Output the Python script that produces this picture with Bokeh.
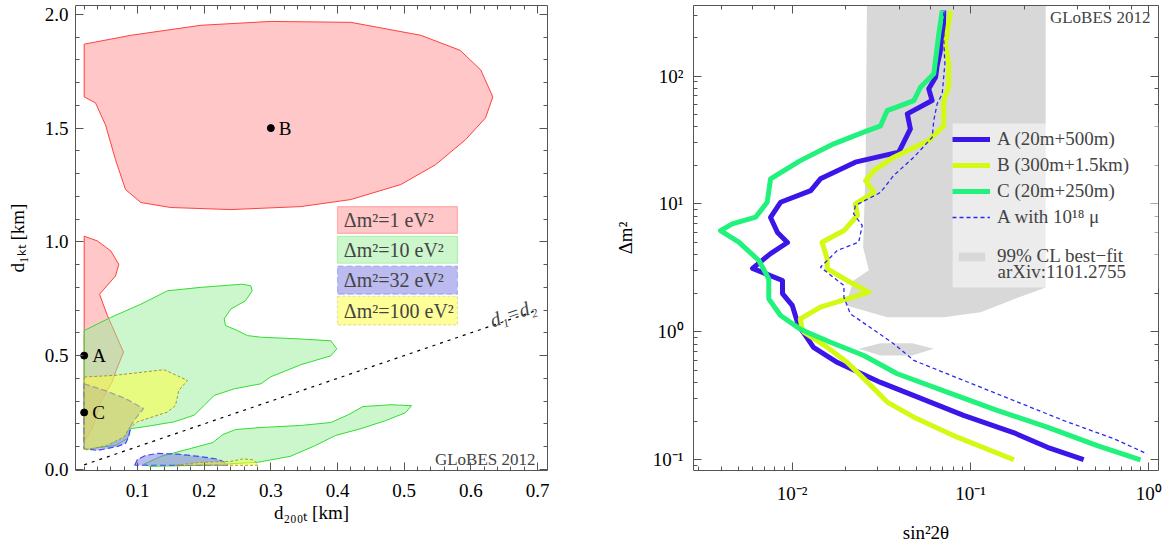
from bokeh.plotting import figure
from bokeh.models import (LinearAxis, LogAxis, SingleIntervalTicker, PrintfTickFormatter,
                          CustomJSTickFormatter, BoxAnnotation, Label, Legend, LegendItem, Range1d)
from bokeh.layouts import row
from bokeh.embed import file_html
from bokeh.resources import INLINE
from bokeh.core.properties import value

FONT = "Liberation Serif"

# ---------------- left panel data (km) ----------------
red1_x = [0.02, 0.09, 0.195, 0.30, 0.42, 0.525, 0.584, 0.615, 0.633, 0.622, 0.592, 0.547, 0.495, 0.42, 0.345,
          0.24, 0.15, 0.105, 0.082, 0.067, 0.052, 0.037, 0.02]
red1_y = [1.869, 1.908, 1.952, 1.969, 1.965, 1.908, 1.842, 1.755, 1.637, 1.545, 1.449, 1.339, 1.252, 1.186, 1.155,
          1.142, 1.151, 1.173, 1.230, 1.361, 1.514, 1.611, 1.637]
red2_x = [0.02, 0.040, 0.060, 0.072, 0.067, 0.043, 0.055, 0.079, 0.067, 0.062, 0.045, 0.032, 0.02]
red2_y = [1.025, 1.004, 0.960, 0.901, 0.850, 0.770, 0.675, 0.515, 0.428, 0.384, 0.298, 0.179, 0.123]

green1_x = [0.02, 0.060, 0.105, 0.145, 0.195, 0.257, 0.270, 0.272, 0.262, 0.240, 0.230, 0.232, 0.250, 0.265, 0.285,
            0.345, 0.390, 0.399, 0.390, 0.345, 0.300, 0.285, 0.245, 0.215, 0.200, 0.185, 0.155, 0.110, 0.090, 0.085,
            0.067, 0.02]
green1_y = [0.610, 0.668, 0.726, 0.785, 0.800, 0.814, 0.807, 0.785, 0.741, 0.705, 0.661, 0.632, 0.610, 0.588, 0.581,
            0.573, 0.565, 0.530, 0.499, 0.460, 0.407, 0.376, 0.354, 0.325, 0.281, 0.238, 0.209, 0.187, 0.179, 0.136,
            0.105, 0.088]
green2_x = [0.109, 0.135, 0.180, 0.213, 0.228, 0.247, 0.285, 0.345, 0.390, 0.417, 0.438, 0.480, 0.511, 0.502, 0.472,
            0.435, 0.397, 0.367, 0.329, 0.280, 0.195, 0.120]
green2_y = [0.022, 0.057, 0.092, 0.118, 0.153, 0.175, 0.184, 0.193, 0.206, 0.241, 0.276, 0.284, 0.280, 0.249, 0.214,
            0.179, 0.149, 0.105, 0.057, 0.031, 0.018, 0.013]

blue1_x = [0.02, 0.052, 0.082, 0.109, 0.097, 0.090, 0.087, 0.082, 0.070, 0.040, 0.02]
blue1_y = [0.376, 0.346, 0.311, 0.267, 0.223, 0.193, 0.144, 0.114, 0.101, 0.083, 0.092]
blue2_x = [0.096, 0.100, 0.112, 0.130, 0.160, 0.195, 0.220, 0.235, 0.235, 0.096]
blue2_y = [0.019, 0.044, 0.061, 0.070, 0.067, 0.056, 0.045, 0.026, 0.018, 0.018]

yellow1_x = [0.02, 0.065, 0.140, 0.175, 0.162, 0.157, 0.145, 0.100, 0.087, 0.080, 0.055, 0.02]
yellow1_y = [0.406, 0.413, 0.438, 0.391, 0.347, 0.281, 0.252, 0.209, 0.180, 0.143, 0.106, 0.084]
yellow2_x = [0.157, 0.195, 0.240, 0.258, 0.273, 0.280, 0.280]
yellow2_y = [0.018, 0.031, 0.035, 0.046, 0.042, 0.026, 0.018]

pt_x = [0.02, 0.30, 0.02]
pt_y = [0.50, 1.50, 0.25]
pt_lbl = ["A", "B", "C"]

diag_x = [0.02, 0.70]
diag_y = [0.02, 0.70]

left_legend_labels = ["Δm²=1 eV²", "Δm²=10 eV²", "Δm²=32 eV²", "Δm²=100 eV²"]

# ---------------- right panel data ----------------
A_x = [0.0708, 0.0703, 0.0673, 0.0650, 0.0637, 0.0583, 0.0609, 0.0442, 0.0460, 0.0396, 0.0226, 0.0144, 0.0127,
       0.0086, 0.00756, 0.00827, 0.00941, 0.00756, 0.00599, 0.00882, 0.00882, 0.0100, 0.01084, 0.0122, 0.01316,
       0.01795, 0.0313, 0.0478, 0.0914, 0.174, 0.270, 0.431]
A_y = [325, 215, 150, 121, 97.9, 79.4, 64.3, 50.6, 38.6, 25.4, 21.2, 15.7, 12.7, 10.3, 7.83, 5.98, 4.99, 4.09,
       3.13, 2.52, 1.99, 1.61, 1.12, 0.886, 0.754, 0.575, 0.402, 0.318, 0.222, 0.163, 0.125, 0.100]

B_x = [0.0773, 0.0724, 0.0755, 0.0755, 0.0708, 0.0708, 0.0583, 0.0371, 0.0287, 0.0258, 0.0287, 0.0226, 0.0232,
       0.0195, 0.0147, 0.0157, 0.0157, 0.0203, 0.0269, 0.0144, 0.0111, 0.01138, 0.01162, 0.0157, 0.0203, 0.0264,
       0.0341, 0.0481, 0.0842, 0.175]
B_y = [325, 179, 125, 81.7, 64.3, 40.8, 31.3, 23.2, 18.2, 15.2, 12.3, 10.0, 8.11, 6.19, 5.02, 3.72, 3.11, 2.52,
       2.04, 1.56, 1.26, 1.05, 0.993, 0.758, 0.578, 0.404, 0.282, 0.215, 0.150, 0.0998]

C_x = [0.0694, 0.0664, 0.0650, 0.0622, 0.0524, 0.0481, 0.0341, 0.0313, 0.0252, 0.0171, 0.0111, 0.00756, 0.00724,
       0.00623, 0.00461, 0.00396, 0.00502, 0.00650, 0.00739, 0.00739, 0.0086, 0.0111, 0.01213, 0.0164, 0.0252,
       0.0388, 0.0740, 0.141, 0.269, 0.514, 0.898]
C_y = [325, 214, 168, 104, 81.7, 64.3, 53.7, 40.8, 36.4, 29.5, 21.8, 15.7, 10.3, 7.87, 6.99, 6.19, 5.02, 3.61,
       2.59, 1.81, 1.34, 1.05, 0.993, 0.829, 0.653, 0.470, 0.337, 0.243, 0.180, 0.129, 0.0998]

D_x = [0.0708, 0.0708, 0.0718, 0.0694, 0.0650, 0.0622, 0.0610, 0.0481, 0.0371, 0.0313, 0.0226, 0.0221, 0.0247,
       0.0236, 0.0179, 0.0144, 0.0195, 0.0195, 0.0212, 0.0264, 0.0371, 0.0481, 0.0917, 0.175, 0.334, 0.636, 0.979]
D_y = [315, 190, 125, 72.6, 60.6, 44.9, 33.2, 23.2, 16.7, 12.3, 9.72, 8.37, 6.78, 5.02, 4.32, 3.20, 2.30, 1.86,
       1.38, 1.12, 0.806, 0.597, 0.416, 0.290, 0.202, 0.146, 0.111]

gray1_x = [0.0264, 0.264, 0.264, 0.184, 0.114, 0.0706, 0.0341, 0.0199, 0.0221, 0.0269, 0.0250, 0.0258]
gray1_y = [1000, 1000, 2.22, 1.85, 1.42, 1.30, 1.30, 1.61, 2.52, 3.03, 4.56, 20]
gray2_x = [0.0236, 0.0313, 0.0471, 0.0622, 0.0471, 0.0313]
gray2_y = [0.736, 0.814, 0.814, 0.736, 0.653, 0.653]

line_labels = ["A (20m+500m)", "B (300m+1.5km)", "C (20m+250m)", "A with 10¹⁸ μ"]

FRAME = "#555555"
BLANK = "return '';"


def style_axis(ax, labels=True, minor=4, major=8):
    ax.major_tick_in = major
    ax.major_tick_out = 0
    ax.minor_tick_in = minor
    ax.minor_tick_out = 0
    ax.axis_line_color = FRAME
    ax.major_tick_line_color = FRAME
    ax.minor_tick_line_color = FRAME
    ax.major_label_text_font = FONT
    ax.major_label_text_font_size = "19px"
    ax.major_label_text_color = "black"
    ax.axis_label_text_font = FONT
    ax.axis_label_text_font_size = "19px"
    ax.axis_label_text_font_style = "normal"
    ax.axis_label_text_color = "black"
    if not labels:
        ax.formatter = CustomJSTickFormatter(code=BLANK)
        ax.major_label_standoff = 0
        ax.axis_label = None


# ======================= LEFT =======================
p1 = figure(width=588, height=545, x_range=Range1d(0.007, 0.715), y_range=Range1d(-0.005, 2.039),
            output_backend="svg", toolbar_location=None,
            min_border_left=75, min_border_right=41, min_border_top=5, min_border_bottom=75)
p1.grid.visible = False
p1.outline_line_color = None
p1.background_fill_color = "white"

xt1 = SingleIntervalTicker(interval=0.1, num_minor_ticks=5)
yt1 = SingleIntervalTicker(interval=0.5, num_minor_ticks=5)
p1.xaxis.ticker = xt1
p1.yaxis.ticker = yt1
p1.xaxis.formatter = PrintfTickFormatter(format="%.1f")
p1.yaxis.formatter = PrintfTickFormatter(format="%.1f")
p1.xaxis.axis_label = "d₂₀₀ₜ [km]"
p1.yaxis.axis_label = "d₁ₖₜ [km]"
for ax in p1.xaxis + p1.yaxis:
    style_axis(ax)
p1.xaxis.major_label_standoff = 13
p1.xaxis.axis_label_standoff = 2
p1.yaxis.major_label_standoff = 7
p1.yaxis.axis_label_standoff = 14
ax_r = LinearAxis(ticker=yt1)
style_axis(ax_r, labels=False)
p1.add_layout(ax_r, "right")
ax_t = LinearAxis(ticker=xt1)
style_axis(ax_t, labels=False)
p1.add_layout(ax_t, "above")

RED_F, RED_L = "#ff9090", "#ff4040"
GRN_F, GRN_L = "#99ee99", "#33dd33"
BLU_F, BLU_L = "#7777e0", "#4545ff"
YEL_F, YEL_L = "#ffff33", "#a09a30"

for xs, ys in [(red1_x, red1_y), (red2_x, red2_y)]:
    p1.patch(xs, ys, fill_color=RED_F, fill_alpha=0.5, line_color=RED_L, line_width=1)
for xs, ys in [(green1_x, green1_y), (green2_x, green2_y)]:
    p1.patch(xs, ys, fill_color=GRN_F, fill_alpha=0.5, line_color=GRN_L, line_width=1)
for xs, ys in [(blue1_x, blue1_y), (blue2_x, blue2_y)]:
    p1.patch(xs, ys, fill_color=BLU_F, fill_alpha=0.5, line_color=BLU_L, line_width=1.2, line_dash="6 3")
for xs, ys in [(yellow1_x, yellow1_y), (yellow2_x, yellow2_y)]:
    p1.patch(xs, ys, fill_color=YEL_F, fill_alpha=0.5, line_color=YEL_L, line_width=1, line_dash="3 2")

p1.line(diag_x, diag_y, line_color="black", line_width=1.2, line_dash="3 5")
p1.add_layout(Label(x=0.663, y=0.687, text="d₁=d₂", angle=0.33, text_align="center", text_baseline="middle",
                    text_font=FONT, text_font_style="italic", text_font_size="20px"))

p1.scatter(pt_x, pt_y, size=7, color="black")
p1.text(pt_x, pt_y, text=pt_lbl, x_offset=8, text_baseline="middle", text_align="left",
        text_font=value(FONT), text_font_size="19px", text_color="black")

# legend boxes (left panel)
box_specs = [(1.155, 1.037, RED_F, RED_L, "solid"), (1.024, 0.906, GRN_F, GRN_L, "solid"),
             (0.893, 0.770, BLU_F, BLU_L, "6 3"), (0.761, 0.635, YEL_F, YEL_L, "3 2")]
for (top, bot, fc, lc, dash), lab in zip(box_specs, left_legend_labels):
    p1.add_layout(BoxAnnotation(left=0.400, right=0.580, top=top, bottom=bot, fill_color=fc, fill_alpha=0.5,
                                line_color=lc, line_width=1.2, line_dash=dash))
    p1.add_layout(Label(x=0.4095, y=(top + bot) / 2, text=lab, text_baseline="middle", text_align="left",
                        text_font=FONT, text_font_size="20px"))

p1.add_layout(Label(x=0.697, y=0.042, text="GLoBES 2012", text_align="right", text_baseline="middle",
                    text_font=FONT, text_font_size="17px"))

# ======================= RIGHT =======================
p2 = figure(width=578, height=545, x_axis_type="log", y_axis_type="log",
            x_range=Range1d(0.002795, 1.133), y_range=Range1d(0.0823, 356),
            output_backend="svg", toolbar_location=None,
            min_border_left=105, min_border_right=8, min_border_top=5, min_border_bottom=75)
p2.grid.visible = False
p2.outline_line_color = None

sup_code = """
const sup = {'-':'\u207b','0':'\u2070','1':'\u00b9','2':'\u00b2','3':'\u00b3','4':'\u2074',
             '5':'\u2075','6':'\u2076','7':'\u2077','8':'\u2078','9':'\u2079'};
const e = Math.round(Math.log10(tick));
let s = '';
for (const c of String(e)) { s += sup[c]; }
return '10' + s;
"""
p2.xaxis.formatter = CustomJSTickFormatter(code=sup_code)
p2.yaxis.formatter = CustomJSTickFormatter(code=sup_code)
p2.xaxis.axis_label = "sin²2θ"
p2.yaxis.axis_label = "Δm²"
for ax in p2.xaxis + p2.yaxis:
    style_axis(ax)
p2.xaxis.major_label_standoff = 12
p2.xaxis.axis_label_standoff = 15
p2.yaxis.major_label_standoff = 10
p2.yaxis.axis_label_standoff = 14
ax_r2 = LogAxis()
style_axis(ax_r2, labels=False)
p2.add_layout(ax_r2, "right")
ax_t2 = LogAxis()
style_axis(ax_t2, labels=False)
p2.add_layout(ax_t2, "above")

GRAY = "#d8d8d8"
g1 = p2.patch(gray1_x, gray1_y, fill_color=GRAY, line_color=None)
p2.patch(gray2_x, gray2_y, fill_color=GRAY, line_color=None)

rA = p2.line(A_x, A_y, line_color="#3c16e8", line_width=5, line_join="round")
rB = p2.line(B_x, B_y, line_color="#d4fa14", line_width=5, line_join="round")
rC = p2.line(C_x, C_y, line_color="#20f27c", line_width=5, line_join="round")
rD = p2.line(D_x, D_y, line_color="#2a2af0", line_width=1.3, line_dash="4 3")

# translucent legend panel
p2.add_layout(BoxAnnotation(left=0.0793, bottom=2.22, top=42.5, fill_color="white", fill_alpha=0.5,
                            line_color=None))

leg1 = Legend(items=[LegendItem(label=l, renderers=[r]) for l, r in zip(line_labels, [rA, rB, rC, rD])],
              location=(259, 242), glyph_width=38, glyph_height=20, label_height=20, label_standoff=7,
              spacing=4, padding=0, margin=0, border_line_color=None, background_fill_alpha=0,
              label_text_font=FONT, label_text_font_size="19px")
p2.add_layout(leg1)
leg2 = Legend(items=[LegendItem(label="99% CL best−fit", renderers=[g1])],
              location=(262, 203), glyph_width=33, glyph_height=11, label_height=20, label_standoff=9,
              spacing=0, padding=0, margin=0, border_line_color=None, background_fill_alpha=0,
              label_text_font=FONT, label_text_font_size="19px")
p2.add_layout(leg2)
p2.add_layout(Label(x=0.1417, y=2.935, text="arXiv:1101.2755", text_baseline="middle", text_align="left",
                    text_font=FONT, text_font_size="19px"))
p2.add_layout(Label(x=1.022, y=286, text="GLoBES 2012", text_align="right", text_baseline="middle",
                    text_font=FONT, text_font_size="17px"))

layout = row(p1, p2)
open("out.html", "w").write(file_html(layout, INLINE))
